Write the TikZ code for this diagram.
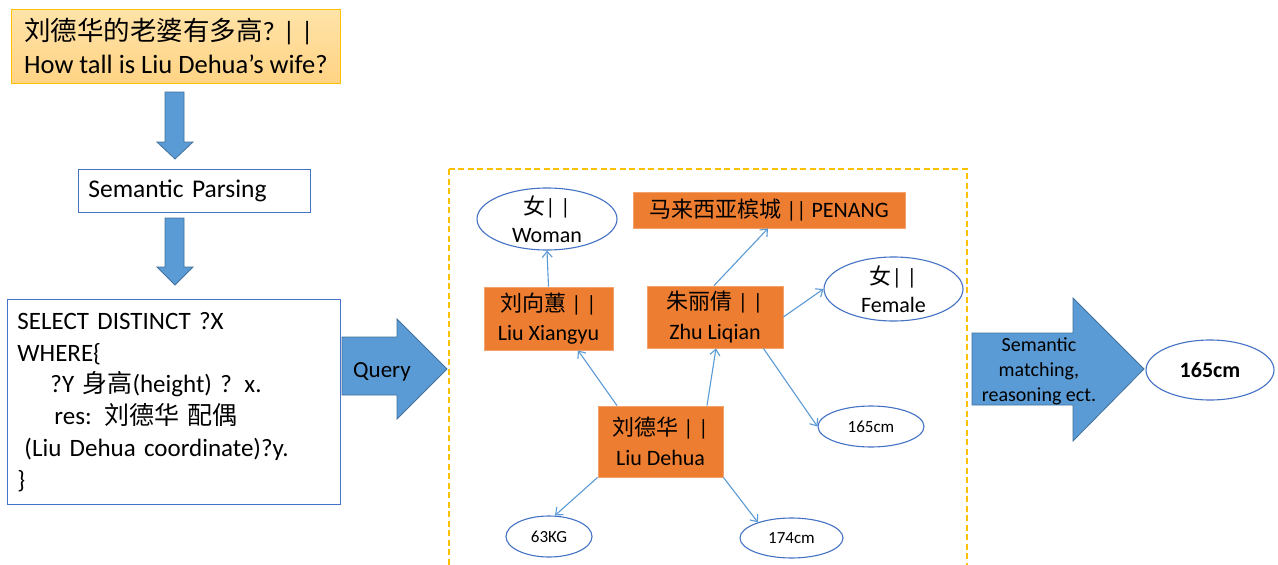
\documentclass[tikz,border=0pt]{standalone}
\usepackage{fontspec}
\setmainfont{Carlito}
\newfontfamily\cjk{Noto Sans CJK SC}
\usetikzlibrary{arrows.meta,shapes.geometric}
\newcommand\zh[1]{{\cjk #1}}
\definecolor{arrblue}{HTML}{5B9BD5}
\definecolor{arrline}{HTML}{41719C}
\definecolor{boxblue}{HTML}{4472C4}
\definecolor{orfill}{HTML}{ED7D31}
\definecolor{orline}{HTML}{F4A26B}
\definecolor{gold}{HTML}{FFC000}
\definecolor{qtop}{HTML}{FFE3A8}
\definecolor{qbot}{HTML}{FFD384}
\tikzset{
  blockarrow/.style={fill=arrblue, draw=arrline, line width=0.8pt},
  entity/.style={rectangle, fill=orfill, draw=orline, line width=0.8pt, inner sep=0pt, align=center,
    font=\fontsize{22}{29.5}\selectfont},
  value/.style={ellipse, draw=boxblue, line width=1.1pt, fill=white, inner xsep=-4pt, inner ysep=-12pt, align=center,
    font=\fontsize{22}{28.5}\selectfont},
  smallvalue/.style={value, font=\fontsize{17}{20}\selectfont, inner ysep=-6pt},
  link/.style={draw=arrblue, line width=1.1pt, -{Straight Barb[length=6pt,width=10pt,line width=1.1pt]}},
}
\begin{document}
\begin{tikzpicture}[x=1pt,y=-1pt]
\useasboundingbox (0,0) rectangle (1278,565);
\clip (0,0) rectangle (1278,565);
\fill[white] (0,0) rectangle (1278,565);

% question box
\node[anchor=north west, rectangle, top color=qtop, bottom color=qbot, draw=gold, line width=0.8pt,
  minimum width=329pt, minimum height=74pt, inner xsep=4pt, inner ysep=0pt, align=left,
  font=\fontsize{26.5}{33}\selectfont] (question) at (11,9)
  {\zh{刘德华的老婆有多高}? | |\\How tall is Liu Dehua’s wife?};

% down arrows
\path[blockarrow] (165,92) -- (184,92) -- (184,142) -- (193,142) -- (175,159) -- (157,142) -- (165,142) -- cycle;
\path[blockarrow] (165,218) -- (184,218) -- (184,267) -- (193,267) -- (175,285) -- (157,267) -- (165,267) -- cycle;

% semantic parsing box
\node[anchor=north west, rectangle, draw=boxblue, line width=0.9pt, fill=white,
  minimum width=232pt, minimum height=43pt, inner xsep=10pt, inner ysep=0pt, text width=212pt, align=left,
  font=\fontsize{25.5}{28}\selectfont] (parsing) at (78,169) {Semantic Parsing};

% query box
\node[anchor=north west, rectangle, draw=boxblue, line width=0.9pt, fill=white,
  minimum width=333pt, minimum height=205pt, inner xsep=10pt, inner ysep=0pt, text width=313pt, align=left,
  font=\fontsize{25}{31.8}\selectfont] (sparql) at (7,299)
  {SELECT DISTINCT ?X\\
   WHERE\{\\
   \hspace*{33pt}?Y \zh{身高}(height) ? x.\\
   \hspace*{37pt}res: \zh{刘德华 配偶}\\
   \hspace*{7pt}(Liu Dehua coordinate)?y.\\
   \}};

% query arrow
\path[blockarrow] (342,337) -- (397,337) -- (397,319) -- (447,369) -- (397,419) -- (397,395) -- (342,395) -- cycle;
\node[font=\fontsize{23}{26}\selectfont] (querylabel) at (382,372) {Query};

% knowledge graph frame
\draw[gold, line width=1.6pt, dash pattern=on 6pt off 3.5pt] (449,169) rectangle (967,580);

% graph nodes
\node[value, minimum width=140pt, minimum height=62pt] (woman) at (547,219) {\zh{女}| |\\Woman};
\node[entity, minimum width=272pt, minimum height=36pt] (penang) at (769,210) {\zh{马来西亚槟城} || PENANG};
\node[value, minimum width=139pt, minimum height=64pt] (female) at (893.5,289) {\zh{女}| |\\Female};
\node[entity, minimum width=129pt, minimum height=63pt] (xiangyu) at (548.5,318.5) {\zh{刘向蕙} | |\\Liu Xiangyu};
\node[entity, minimum width=136pt, minimum height=62pt] (zhu) at (715,317) {\zh{朱丽倩} | |\\Zhu Liqian};
\node[smallvalue, minimum width=106pt, minimum height=41pt] (height) at (871,426.5) {165cm};
\node[entity, minimum width=125pt, minimum height=71pt] (dehua) at (660.5,441.5) {\zh{刘德华} | |\\Liu Dehua};
\node[smallvalue, minimum width=86pt, minimum height=41pt] (weight) at (549,536.5) {63KG};
\node[smallvalue, minimum width=103pt, minimum height=40pt] (tall) at (791.5,538) {174cm};

% graph edges
\draw[link] ([xshift=-43.5pt]dehua.north) -- ([xshift=29.5pt]xiangyu.south);
\draw[link] ([xshift=46.5pt]dehua.north) -- ([xshift=1pt]zhu.south);
\draw[link] (dehua.south west) -- ([xshift=6pt]weight.north);
\draw[link] (dehua.south east) -- (tall.155);
\draw[link] (xiangyu.north) -- (woman.south);
\draw[link] ([xshift=-1pt]zhu.north) -- ([xshift=-1pt]penang.south);
\draw[link] (zhu.east) -- (female.west);
\draw[link] ([xshift=-20pt]zhu.south east) -- (height.west);

% semantic matching arrow
\path[blockarrow] (972,333) -- (1073,333) -- (1073,298) -- (1144,369) -- (1073,441) -- (1073,405) -- (972,405) -- cycle;
\node[align=center, font=\fontsize{20}{25}\selectfont] (matchlabel) at (1039,371) {Semantic\\matching,\\reasoning ect.};

% answer
\node[value, minimum width=128pt, minimum height=60pt, font=\bfseries\fontsize{22}{26}\selectfont, inner ysep=-4pt] (answer) at (1210,370) {165cm};
\end{tikzpicture}
\end{document}
